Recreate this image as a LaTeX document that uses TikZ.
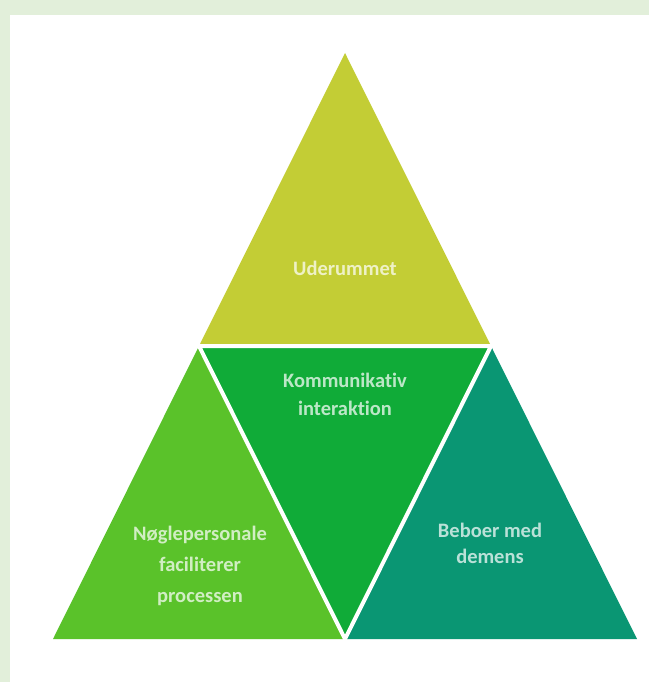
\documentclass[tikz,border=0pt]{standalone}
\usepackage{fontspec}
\setmainfont{Carlito}[Ligatures={NoCommon}]
\definecolor{bandgreen}{HTML}{E2EFDA}
\definecolor{topcol}{HTML}{C3CD35}
\definecolor{midcol}{HTML}{10AB38}
\definecolor{leftcol}{HTML}{5AC22A}
\definecolor{rightcol}{HTML}{0A9673}
\begin{document}
\begin{tikzpicture}[x=1pt,y=-1pt,
  lbl/.style={text=white,text opacity=0.72,font=\bfseries\fontsize{20.5}{30}\selectfont,align=center,inner sep=0pt},
  gap/.style={draw=white,line width=4pt,line cap=round}]
\useasboundingbox (0,0) rectangle (649,682);
\fill[bandgreen] (0,0) rectangle (649,682);
\fill[white] (10,15) rectangle (649,682);
\coordinate (A) at (345,53);
\coordinate (L) at (53,639);
\coordinate (R) at (637,639);
\coordinate (ML) at (199,346);
\coordinate (MR) at (491,346);
\coordinate (MB) at (345,639);
\fill[topcol] (A) -- (MR) -- (ML) -- cycle;
\fill[midcol] (ML) -- (MR) -- (MB) -- cycle;
\fill[leftcol] (ML) -- (MB) -- (L) -- cycle;
\fill[rightcol] (MR) -- (R) -- (MB) -- cycle;
\draw[gap] (ML) -- (MR) -- (MB) -- cycle;
\node[lbl] (top) at (345,268) {Uderummet};
\node[lbl,font=\bfseries\fontsize{20.5}{28}\selectfont] (mid) at (345,394) {Kommunikativ\\interaktion};
\node[lbl,font=\bfseries\fontsize{20.5}{31}\selectfont] (left) at (200,566) {Nøglepersonale\\faciliterer\\processen};
\node[lbl,font=\bfseries\fontsize{20.5}{26}\selectfont] (right) at (490,543) {Beboer med\\demens};
\end{tikzpicture}
\end{document}
